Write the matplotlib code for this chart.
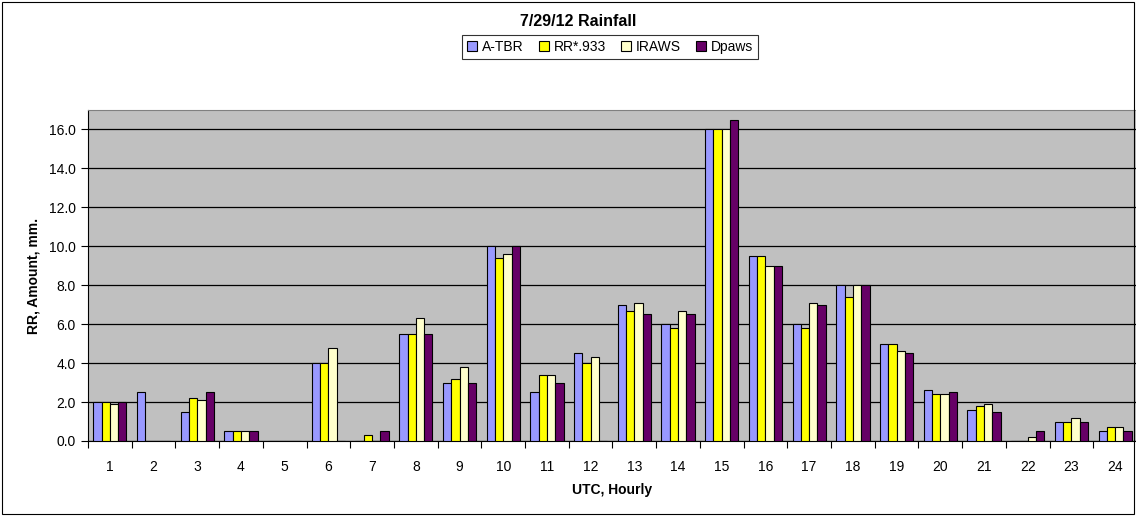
import matplotlib
matplotlib.use("Agg")
import matplotlib.pyplot as plt
import numpy as np
from matplotlib.patches import Rectangle

hours = [str(i) for i in range(1, 25)]
a_tbr = [2.0, 2.5, 1.5, 0.5, 0, 4.0, 0, 5.5, 3.0, 10.0, 2.5, 4.5, 7.0, 6.0, 16.0, 9.5, 6.0, 8.0, 5.0, 2.6, 1.6, 0, 1.0, 0.5]
rr933 = [2.0, 0, 2.2, 0.5, 0, 4.0, 0.3, 5.5, 3.2, 9.4, 3.4, 4.0, 6.7, 5.8, 16.0, 9.5, 5.8, 7.4, 5.0, 2.4, 1.8, 0, 1.0, 0.7]
iraws = [1.9, 0, 2.1, 0.5, 0, 4.8, 0, 6.3, 3.8, 9.6, 3.4, 4.3, 7.1, 6.7, 16.0, 9.0, 7.1, 8.0, 4.6, 2.4, 1.9, 0.2, 1.2, 0.7]
dpaws = [2.0, 0, 2.5, 0.5, 0, 0, 0.5, 5.5, 3.0, 10.0, 3.0, 0, 6.5, 6.5, 16.5, 9.0, 7.0, 8.0, 4.5, 2.5, 1.5, 0.5, 1.0, 0.5]
series_names = ["A-TBR", "RR*.933", "IRAWS", "Dpaws"]
colors = ["#9999FF", "#FFFF00", "#FFFFCC", "#660066"]

plt.rcParams['font.family'] = ['Liberation Sans', 'DejaVu Sans']

fig = plt.figure(figsize=(11.36, 5.16), dpi=100)
ax = fig.add_axes([88/1136, 1-441/516, (1137-88)/1136, (441-110)/516])
ax.set_facecolor("#C0C0C0")

x = np.arange(len(hours))
bw = 0.19
data = [a_tbr, rr933, iraws, dpaws]
for i, (vals, c, n) in enumerate(zip(data, colors, series_names)):
    ax.bar(x + (i - 1.5) * bw, vals, width=bw, color=c, edgecolor="black",
           linewidth=0.8, label=n, zorder=3)

ax.set_xlim(-0.5, len(hours) - 0.5)
ax.set_ylim(0, 17)
ax.set_yticks(np.arange(0, 17, 2))
ax.set_yticklabels([f"{v:.1f}" for v in np.arange(0, 17, 2)], fontsize=10)
ax.yaxis.grid(True, color="black", linewidth=0.9, zorder=0)
ax.set_axisbelow(True)

ax.set_xticks(x)
ax.set_xticklabels(hours, fontsize=10)
ax.tick_params(axis='x', length=0, pad=14)
ax.set_xticks(np.arange(-0.5, len(hours) + 0.5, 1), minor=True)
ax.tick_params(axis='x', which='minor', length=5, width=0.8, direction='out')
ax.tick_params(axis='y', length=5, width=0.8, direction='out', pad=4)

for s in ['top', 'right']:
    ax.spines[s].set_color("#808080")
    ax.spines[s].set_linewidth(0.8)
ax.spines['left'].set_color("black")
ax.spines['bottom'].set_color("black")

ax.set_xlabel("UTC, Hourly", fontsize=10, fontweight="bold", labelpad=6)
ax.set_ylabel("RR, Amount, mm.", fontsize=10, fontweight="bold", labelpad=6)

fig.text(578/1136, 1-22/516, "7/29/12 Rainfall", ha="center", va="center",
         fontsize=11.5, fontweight="bold")

leg = fig.legend(loc="center", bbox_to_anchor=(610/1136, 1-47/516), ncol=4,
                 fontsize=10, frameon=True, fancybox=False, edgecolor="black",
                 handlelength=0.7, handleheight=0.7, handletextpad=0.35,
                 columnspacing=1.1, borderpad=0.35)
leg.get_frame().set_linewidth(0.8)

fig.patches.append(Rectangle((2/1136, 2/516), 1132/1136, 512/516, transform=fig.transFigure,
                             fill=False, edgecolor="black", linewidth=0.8))

fig.savefig("out.png", dpi=100)
